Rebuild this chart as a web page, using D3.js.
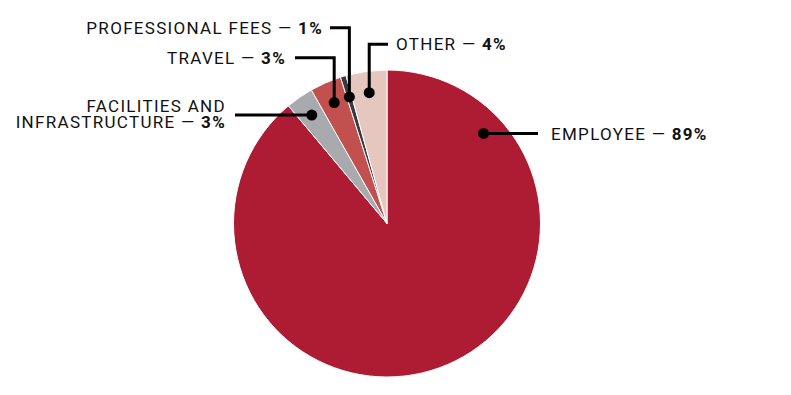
<!DOCTYPE html>
<meta charset="utf-8">
<style>
    body { margin: 0; background: #fff; }
    .label text { font: 17px Roboto, sans-serif; fill: #111; letter-spacing: 1.3px; }
    .label tspan.pct { font-weight: 700; }
    .leader { fill: none; stroke: #000; stroke-width: 3; }
</style>
<svg width="791" height="395"></svg>
<script src="https://cdn.jsdelivr.net/npm/d3@7"></script>
<script>

    // data (shares of total, clockwise from 12 o'clock)
    var categories = ["EMPLOYEE", "FACILITIES AND INFRASTRUCTURE", "TRAVEL", "PROFESSIONAL FEES", "OTHER"];
    var values = [88.9, 2.9, 3.3, 0.6, 4.3];
    var pctLabels = ["89%", "3%", "3%", "1%", "4%"];
    var colors = ["#ae1c34", "#a9aaad", "#c1504f", "#3a3a3c", "#e6c7bf"];

    var width = 791,
        height = 395,
        cx = 387,
        cy = 223.5,
        radius = 153.5;

    var svg = d3.select("svg");

    var pie = d3.pie()
        .sort(null)
        .value(function(d) { return d; });

    var arc = d3.arc()
        .outerRadius(radius)
        .innerRadius(0);

    var dotArc = d3.arc()
        .outerRadius(132)
        .innerRadius(132);

    var arcs = pie(values);

    var g = svg.append("g")
        .attr("transform", "translate(" + cx + "," + cy + ")");

    g.selectAll("path")
        .data(arcs)
        .enter().append("path")
        .attr("d", arc)
        .attr("fill", function(d, i) { return colors[i]; })
        .attr("stroke", "#fff")
        .attr("stroke-width", 1);

    // dot positions: on the slice mid-angle, except the big slice
    var dots = arcs.map(function(d, i) {
        if (i === 0) {
            var a = 47 * Math.PI / 180;
            return [132 * Math.sin(a), -132 * Math.cos(a)];
        }
        return dotArc.centroid(d);
    });

    // leader layout (absolute page coords for the bends / label anchors)
    var layout = [
        {path: function(p) { return [p, [538, p[1]]]; }, x: 551, y: 139.5, anchor: "start"},
        {path: function(p) { return [p, [235, p[1]]]; }, x: 226, y: 111.5, anchor: "end", lines: ["FACILITIES AND", "INFRASTRUCTURE"]},
        {path: function(p) { return [p, [p[0], 57.7], [295, 57.7]]; }, x: 286, y: 63.5, anchor: "end"},
        {path: function(p) { return [p, [p[0], 27.7], [330, 27.7]]; }, x: 323, y: 33.5, anchor: "end"},
        {path: function(p) { return [p, [p[0], 44.3], [388, 44.3]]; }, x: 396, y: 50, anchor: "start"}
    ];

    var line = d3.line();

    dots.forEach(function(d, i) {
        var p = [cx + d[0], cy + d[1]];
        svg.append("path")
            .attr("class", "leader")
            .attr("d", line(layout[i].path(p)));
        svg.append("circle")
            .attr("cx", p[0])
            .attr("cy", p[1])
            .attr("r", 5.5)
            .attr("fill", "#000");
    });

    var labels = svg.append("g").attr("class", "label");

    categories.forEach(function(name, i) {
        var L = layout[i];
        var t = labels.append("text")
            .attr("x", L.x)
            .attr("y", L.y)
            .attr("text-anchor", L.anchor);
        if (L.lines) {
            // two-line label kept in one text element
            t.append("tspan").text(L.lines[0]);
            t.append("tspan")
                .attr("x", L.x)
                .attr("dy", 16.5)
                .text(L.lines[1] + " \u2014 ");
            t.append("tspan").attr("class", "pct").text(pctLabels[i]);
        } else {
            t.append("tspan").text(name + " \u2014 ");
            t.append("tspan").attr("class", "pct").text(pctLabels[i]);
        }
    });

</script>
